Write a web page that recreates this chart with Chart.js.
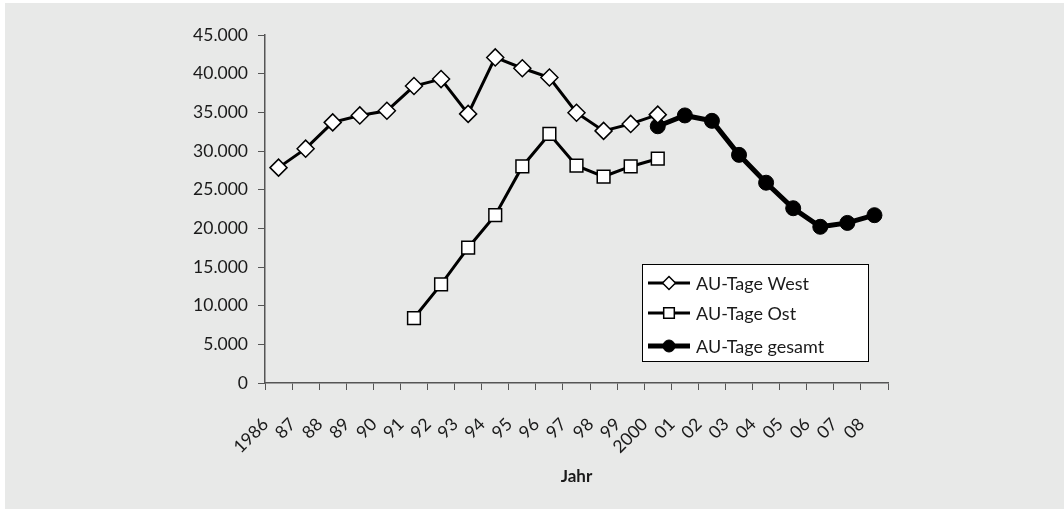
<!DOCTYPE html>
<html>
<head>
<meta charset="utf-8">
<script src="https://cdn.jsdelivr.net/npm/chart.js@4/dist/chart.umd.min.js"></script>
<style>
    html, body { margin: 0; padding: 0; background: #fff; }
    canvas { display: block; }
</style>
</head>
<body>
<canvas id="chartAuTage" width="1064" height="509"></canvas>
<script>
const years = ['1986', '87', '88', '89', '90', '91', '92', '93', '94', '95', '96', '97', '98', '99', '2000', '01', '02', '03', '04', '05', '06', '07', '08'];
const auWest = [27850, 30300, 33700, 34600, 35200, 38400, 39300, 34800, 42100, 40700, 39500, 34950, 32600, 33500, 34700, null, null, null, null, null, null, null, null];
const auOst = [null, null, null, null, null, 8400, 12750, 17500, 21700, 28000, 32200, 28100, 26700, 28000, 29000, null, null, null, null, null, null, null, null];
const auGesamt = [null, null, null, null, null, null, null, null, null, null, null, null, null, null, 33200, 34600, 33900, 29500, 25900, 22600, 20200, 20700, 21700];
const yTicks = [0, 5000, 10000, 15000, 20000, 25000, 30000, 35000, 40000, 45000];

const FONT = 'Lato, "Open Sans", sans-serif';
const TEXT = '#1a1a1a';
const AXIS = '#555';

function formatNumber(value) {
    return String(value).replace(/\B(?=(\d{3})+(?!\d))/g, '.');
}

// grauer Hintergrund wie im Original
const panelBackground = {
    id: 'panelBackground',
    beforeDraw(chart) {
        const ctx = chart.ctx;
        ctx.save();
        ctx.fillStyle = '#e8e9e8';
        ctx.fillRect(5, 3, chart.width - 5, chart.height - 3);
        ctx.restore();
    }
};

// Legende mit Rahmen, Linie + Marker
const boxLegend = {
    id: 'boxLegend',
    afterDatasetsDraw(chart) {
        const { ctx, chartArea } = chart;
        const w = 226, h = 97;
        const x = chartArea.right - 20 - w;
        const y = chartArea.bottom - 22 - h;
        const rows = [19, 49, 82];
        const radii = [6.5, 7.5, 6];

        ctx.save();
        ctx.fillStyle = '#fff';
        ctx.fillRect(x, y, w, h);
        ctx.strokeStyle = '#000';
        ctx.lineWidth = 1;
        ctx.strokeRect(x + 0.5, y + 0.5, w, h);

        chart.data.datasets.forEach((ds, i) => {
            const rowY = y + rows[i];
            ctx.beginPath();
            ctx.lineWidth = ds.borderWidth;
            ctx.strokeStyle = ds.borderColor;
            ctx.moveTo(x + 6, rowY);
            ctx.lineTo(x + 48, rowY);
            ctx.stroke();

            ctx.fillStyle = ds.pointBackgroundColor;
            ctx.strokeStyle = ds.pointBorderColor;
            ctx.lineWidth = ds.pointBorderWidth;
            Chart.helpers.drawPoint(ctx, {
                pointStyle: ds.pointStyle,
                radius: radii[i],
                borderWidth: ds.pointBorderWidth,
                rotation: 0
            }, x + 27, rowY);

            ctx.fillStyle = TEXT;
            ctx.font = '18px ' + FONT;
            ctx.textBaseline = 'middle';
            ctx.textAlign = 'left';
            ctx.fillText(ds.label, x + 54, rowY + 1);
        });
        ctx.restore();
    }
};

new Chart(document.getElementById('chartAuTage'), {
    type: 'line',
    data: {
        labels: years,
        datasets: [
            {
                label: 'AU-Tage West',
                data: auWest,
                borderColor: '#000',
                borderWidth: 3,
                pointStyle: 'rectRot',
                pointRadius: 8.5,
                pointBackgroundColor: '#fff',
                pointBorderColor: '#000',
                pointBorderWidth: 1.5
            },
            {
                label: 'AU-Tage Ost',
                data: auOst,
                borderColor: '#000',
                borderWidth: 3,
                pointStyle: 'rect',
                pointRadius: 9,
                pointBackgroundColor: '#fff',
                pointBorderColor: '#000',
                pointBorderWidth: 1.5
            },
            {
                label: 'AU-Tage gesamt',
                data: auGesamt,
                borderColor: '#000',
                borderWidth: 5,
                pointStyle: 'circle',
                pointRadius: 7.5,
                pointBackgroundColor: '#000',
                pointBorderColor: '#000',
                pointBorderWidth: 1
            }
        ]
    },
    options: {
        responsive: false,
        animation: false,
        spanGaps: false,
        elements: { line: { tension: 0 } },
        layout: { padding: { left: 165, right: 176, top: 35, bottom: 18 } },
        plugins: {
            legend: { display: false },
            tooltip: { enabled: false }
        },
        scales: {
            x: {
                offset: true,
                grid: { offset: true, drawOnChartArea: false, tickLength: 7, color: AXIS, lineWidth: 1 },
                border: { display: true, color: AXIS, width: 1.5 },
                ticks: {
                    minRotation: 45,
                    maxRotation: 45,
                    autoSkip: false,
                    padding: 24,
                    labelOffset: -13,
                    color: TEXT,
                    font: { family: FONT, size: 17.5 }
                },
                title: {
                    display: true,
                    text: 'Jahr',
                    color: TEXT,
                    font: { family: FONT, size: 17, weight: 'bold' },
                    padding: { top: 4, bottom: 4 }
                },
                afterFit: scale => { scale.height = 108; }
            },
            y: {
                min: 0,
                max: 45000,
                afterBuildTicks: scale => { scale.ticks = yTicks.map(v => ({ value: v })); },
                grid: { drawOnChartArea: false, tickLength: 7, color: AXIS, lineWidth: 1 },
                border: { display: true, color: AXIS, width: 1.5 },
                ticks: {
                    padding: 10,
                    color: TEXT,
                    font: { family: FONT, size: 17.5 },
                    callback: value => formatNumber(value)
                },
                afterFit: scale => { scale.width = 100; }
            }
        }
    },
    plugins: [panelBackground, boxLegend]
});
</script>
</body>
</html>
